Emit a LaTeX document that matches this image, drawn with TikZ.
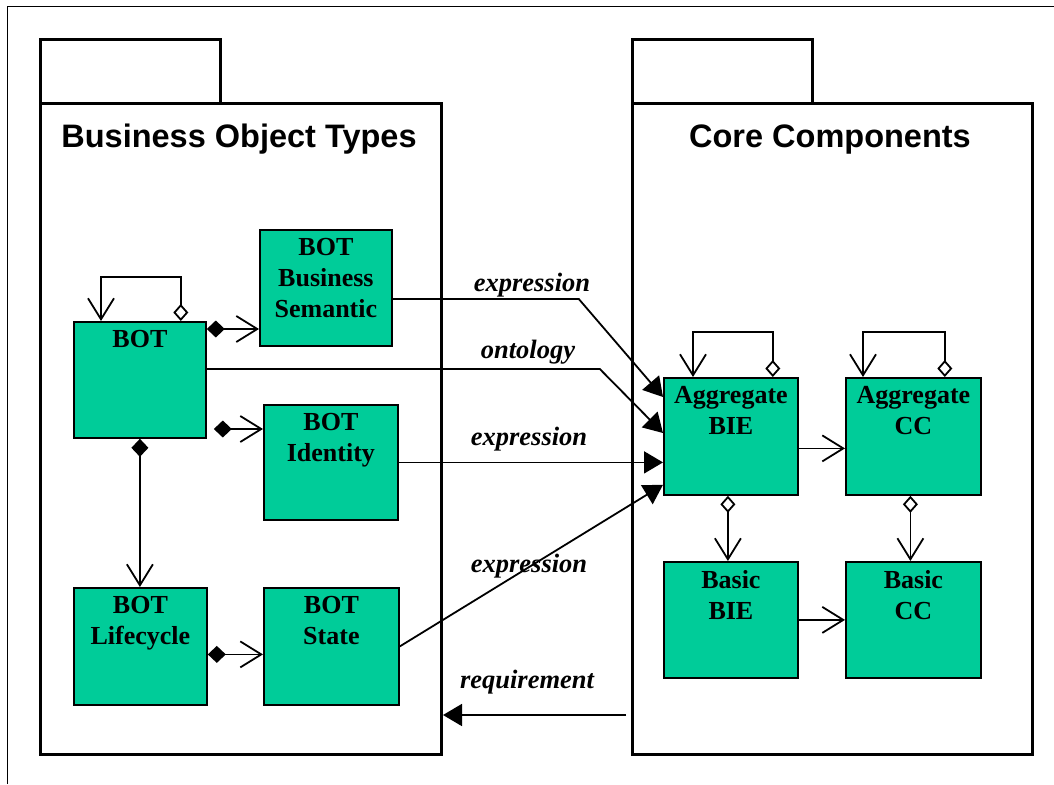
\documentclass[tikz,border=0pt]{standalone}
\usepackage{fontspec}
\setmainfont{Liberation Serif}
\newfontfamily\titlefont{Liberation Sans}
\usetikzlibrary{arrows.meta,calc}

\definecolor{boxgreen}{RGB}{0,204,153}

\tikzset{
  frameline/.style={line width=1pt},
  pkgshape/.style={draw, line width=3pt, inner sep=0pt, anchor=north west},
  classbox/.style={draw, line width=1.8pt, fill=boxgreen, inner sep=0pt, anchor=north west},
  boxtext/.style={anchor=north, inner sep=0pt, align=center,
                  font=\fontsize{26pt}{31pt}\selectfont\bfseries},
  pkgtitle/.style={anchor=base, inner sep=0pt, font=\titlefont\fontsize{32.5pt}{37pt}\selectfont\bfseries},
  linklabel/.style={anchor=base, inner sep=0pt, font=\fontsize{26.5pt}{31pt}\selectfont\bfseries\itshape},
  conn/.style={line width=1.8pt},
  comp/.style={conn, {Diamond[length=18pt,width=17pt]}-{Straight Barb[length=21pt,width=26pt]}},
  aggr/.style={conn, {Diamond[open,length=17pt,width=15pt]}-{Straight Barb[length=21pt,width=26pt]}},
  nav/.style={conn, -{Straight Barb[length=21pt,width=26pt]}},
  assoc/.style={conn, -{Triangle[length=19pt,width=22pt]}},
}

\begin{document}
\begin{tikzpicture}[x=1pt,y=-1pt]
\useasboundingbox (0,0) rectangle (1054,784);

% outer frame (only its left and top edges lie inside the page)
\draw[frameline] (7,784) -- (7,7) -- (1054,7);

% packages
\node[pkgshape, minimum width=180pt, minimum height=64pt] (tabL) at (39,38) {};
\node[pkgshape, minimum width=401pt, minimum height=651pt] (pkgL) at (39,102) {};
\node[pkgshape, minimum width=180pt, minimum height=64pt] (tabR) at (631,38) {};
\node[pkgshape, minimum width=400pt, minimum height=651pt] (pkgR) at (631,102) {};

\node[pkgtitle] (titleL) at (239,147) {Business Object Types};
\node[pkgtitle] (titleR) at (830,147) {Core Components};

% classes
\node[classbox, minimum width=132pt, minimum height=116pt] (bot)  at (73,321)  {};
\node[classbox, minimum width=132pt, minimum height=116pt] (bs)   at (259,229) {};
\node[classbox, minimum width=134pt, minimum height=115pt] (bid)  at (263,404) {};
\node[classbox, minimum width=133pt, minimum height=117pt] (blc)  at (73,587)  {};
\node[classbox, minimum width=135pt, minimum height=117pt] (bst)  at (263,587) {};
\node[classbox, minimum width=134pt, minimum height=117pt] (abie) at (663,377) {};
\node[classbox, minimum width=135pt, minimum height=117pt] (acc)  at (845,377) {};
\node[classbox, minimum width=134pt, minimum height=116pt] (bbie) at (663,561) {};
\node[classbox, minimum width=135pt, minimum height=116pt] (bcc)  at (845,561) {};

\node[boxtext] (bot-t)  at ([yshift=-9pt]bot.north)  {BOT};
\node[boxtext] (bs-t)   at ([yshift=-9pt]bs.north)   {BOT\\Business\\Semantic};
\node[boxtext] (bid-t)  at ([yshift=-9pt]bid.north)  {BOT\\Identity};
\node[boxtext] (blc-t)  at ([yshift=-9pt]blc.north)  {BOT\\Lifecycle};
\node[boxtext] (bst-t)  at ([yshift=-9pt]bst.north)  {BOT\\State};
\node[boxtext] (abie-t) at ([yshift=-9pt]abie.north) {Aggregate\\BIE};
\node[boxtext] (acc-t)  at ([yshift=-9pt]acc.north)  {Aggregate\\CC};
\node[boxtext] (bbie-t) at ([yshift=-9pt]bbie.north) {Basic\\BIE};
\node[boxtext] (bcc-t)  at ([yshift=-9pt]bcc.north)  {Basic\\CC};

% helper points on the class borders
\coordinate (botA) at ([yshift=-8pt]bot.north east);
\coordinate (botB) at ([yshift=-48pt]bot.north east);
\coordinate (botC) at ([xshift=7pt,yshift=-108pt]bot.north east);
\coordinate (bidIn) at ([yshift=-25pt]bid.north west);
\coordinate (bsOut) at ([yshift=-70pt]bs.north east);
\coordinate (blcOut) at ([yshift=-8pt]blc.east);
\coordinate (abieOut) at ([yshift=-12pt]abie.east);
\coordinate (abieDown) at ([xshift=-3pt]abie.south);
\coordinate (accDown) at ([xshift=-3pt]acc.south);
\coordinate (reqY) at (0,715);

% Business Object Types relations
\draw[aggr] ([xshift=-26pt]bot.north east) -- ++(0,-44) -| ([xshift=28pt]bot.north west);
\draw[comp] (botA) -- (botA -| bs.west);
\draw[comp] (botC) -- (bidIn);
\draw[comp] (bot.south) -- (bot.south |- blc.north);
\draw[comp] (blcOut) -- (blcOut -| bst.west);

% links into the Core Components
\draw[assoc] (bsOut) -- ++(186,0) -- ([yshift=-20pt]abie.north west);
\draw[assoc] (botB) -- ++(393,0) -- ([yshift=-56pt]abie.north west);
\draw[assoc] (bid.east) -- (bid.east -| abie.west);
\draw[assoc] (bst.east) -- ([yshift=11pt]abie.south west);
\draw[assoc] ($(pkgR.west |- reqY)+(-5,0)$) -- (pkgL.east |- reqY);

\node[linklabel] (lab1) at (532,291) {expression};
\node[linklabel] (lab2) at (528,358) {ontology};
\node[linklabel] (lab3) at (529,445) {expression};
\node[linklabel] (lab4) at (529,572) {expression};
\node[linklabel] (lab5) at (527,688) {requirement};

% Core Components relations
\draw[aggr] ([xshift=-26pt]abie.north east) -- ++(0,-45) -| ([xshift=30pt]abie.north west);
\draw[aggr] ([xshift=-37pt]acc.north east) -- ++(0,-45) -| ([xshift=18pt]acc.north west);
\draw[nav] (abieOut) -- (abieOut -| acc.west);
\draw[aggr] (abieDown) -- (abieDown |- bbie.north);
\draw[aggr] (accDown) -- (accDown |- bcc.north);
\draw[nav] (bbie.east) -- (bbie.east -| bcc.west);
\end{tikzpicture}
\end{document}
